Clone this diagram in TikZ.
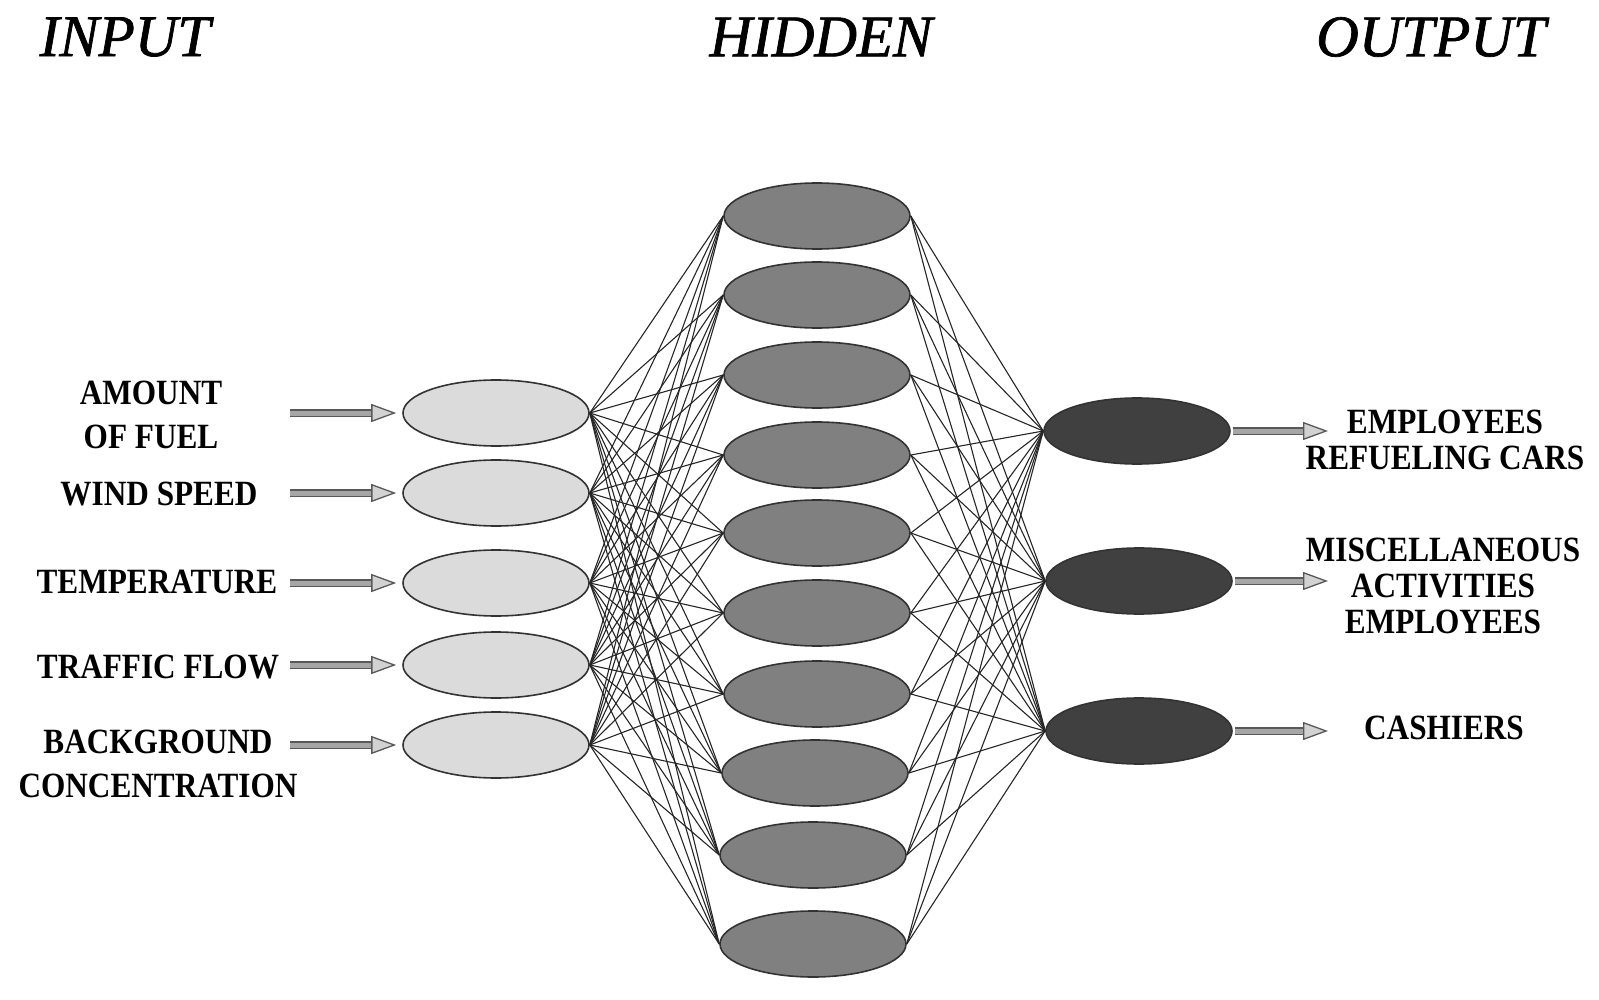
\documentclass[tikz,border=0pt]{standalone}
\usepackage{fontspec}
\setmainfont{Liberation Serif}
\newfontfamily\lblfont{Liberation Serif}[FakeStretch=0.88]
\newfontfamily\ttlfont{Liberation Serif}[FakeBold=1.2, ItalicFeatures={FakeBold=1.2}]
\usetikzlibrary{shapes.geometric,arrows.meta}
\begin{document}
\begin{tikzpicture}[x=1pt,y=-1pt,
 neuron/.style={ellipse, draw=black!80, line width=1.6pt, minimum width=186pt, minimum height=66pt, inner sep=0pt},
 innode/.style={neuron, fill=gray!28},
 hidnode/.style={neuron, fill=gray},
 outnode/.style={neuron, fill=black!75},
 link/.style={draw=black!85, line width=1.1pt},
 feed/.style={draw=black!65, line width=1.3pt, double=gray!70, double distance=5pt, -{Triangle[length=25pt,width=18pt,fill=gray!35]}},
 lbl/.style={font=\lblfont\bfseries\fontsize{35.5}{44}\selectfont, align=center, inner sep=0pt},
 rlbl/.style={lbl, font=\lblfont\bfseries\fontsize{35.5}{36}\selectfont},
 ttl/.style={font=\ttlfont\itshape\fontsize{59}{59}\selectfont, inner sep=0pt}]
\useasboundingbox (0,0) rectangle (1599,1000);
\node[ttl] (tin) at (125,37) {INPUT};
\node[ttl] (thid) at (821,37) {HIDDEN};
\node[ttl] (tout) at (1431,37) {OUTPUT};
\foreach \i/\y in {1/413,2/493,3/583,4/665,5/745}
  \node[innode] (in\i) at (496,\y) {};
\foreach \j/\x/\y in {1/817/216,2/817/295,3/817/375,4/817/455,5/817/533,6/817/613,7/817/694,8/815/773,9/813/855,10/813/944}
  \node[hidnode] (h\j) at (\x,\y) {};
\foreach \k/\x/\y in {1/1137/431,2/1139/581,3/1139/731}
  \node[outnode] (o\k) at (\x,\y) {};
\foreach \i in {1,...,5}
  \foreach \j in {1,...,10}
    \draw[link] (in\i.east) -- (h\j.west);
\foreach \j in {1,...,10}
  \foreach \k in {1,2,3}
    \draw[link] (h\j.east) -- (o\k.west);
\foreach \i/\y in {1/413,2/493,3/583,4/665,5/745}{
  \coordinate (s\i) at (290,\y);
  \draw[feed] (s\i) -- ([xshift=-6pt]in\i.west);
}
\foreach \k/\y in {1/431,2/581,3/731}{
  \coordinate (t\k) at (1328,\y);
  \draw[feed] ([xshift=2pt]o\k.east) -- (t\k);
}
\node[lbl] (l1) at (151,415) {AMOUNT\\OF FUEL};
\node[lbl] (l2) at (159,494) {WIND SPEED};
\node[lbl] (l3) at (157,582) {TEMPERATURE};
\node[lbl] (l4) at (158,667) {TRAFFIC FLOW};
\node[lbl] (l5) at (158,764) {BACKGROUND\\CONCENTRATION};
\node[rlbl] (r1) at (1445,440) {EMPLOYEES\\REFUELING CARS};
\node[rlbl] (r2) at (1443,586) {MISCELLANEOUS\\ACTIVITIES\\EMPLOYEES};
\node[rlbl] (r3) at (1444,728) {CASHIERS};
\end{tikzpicture}
\end{document}
